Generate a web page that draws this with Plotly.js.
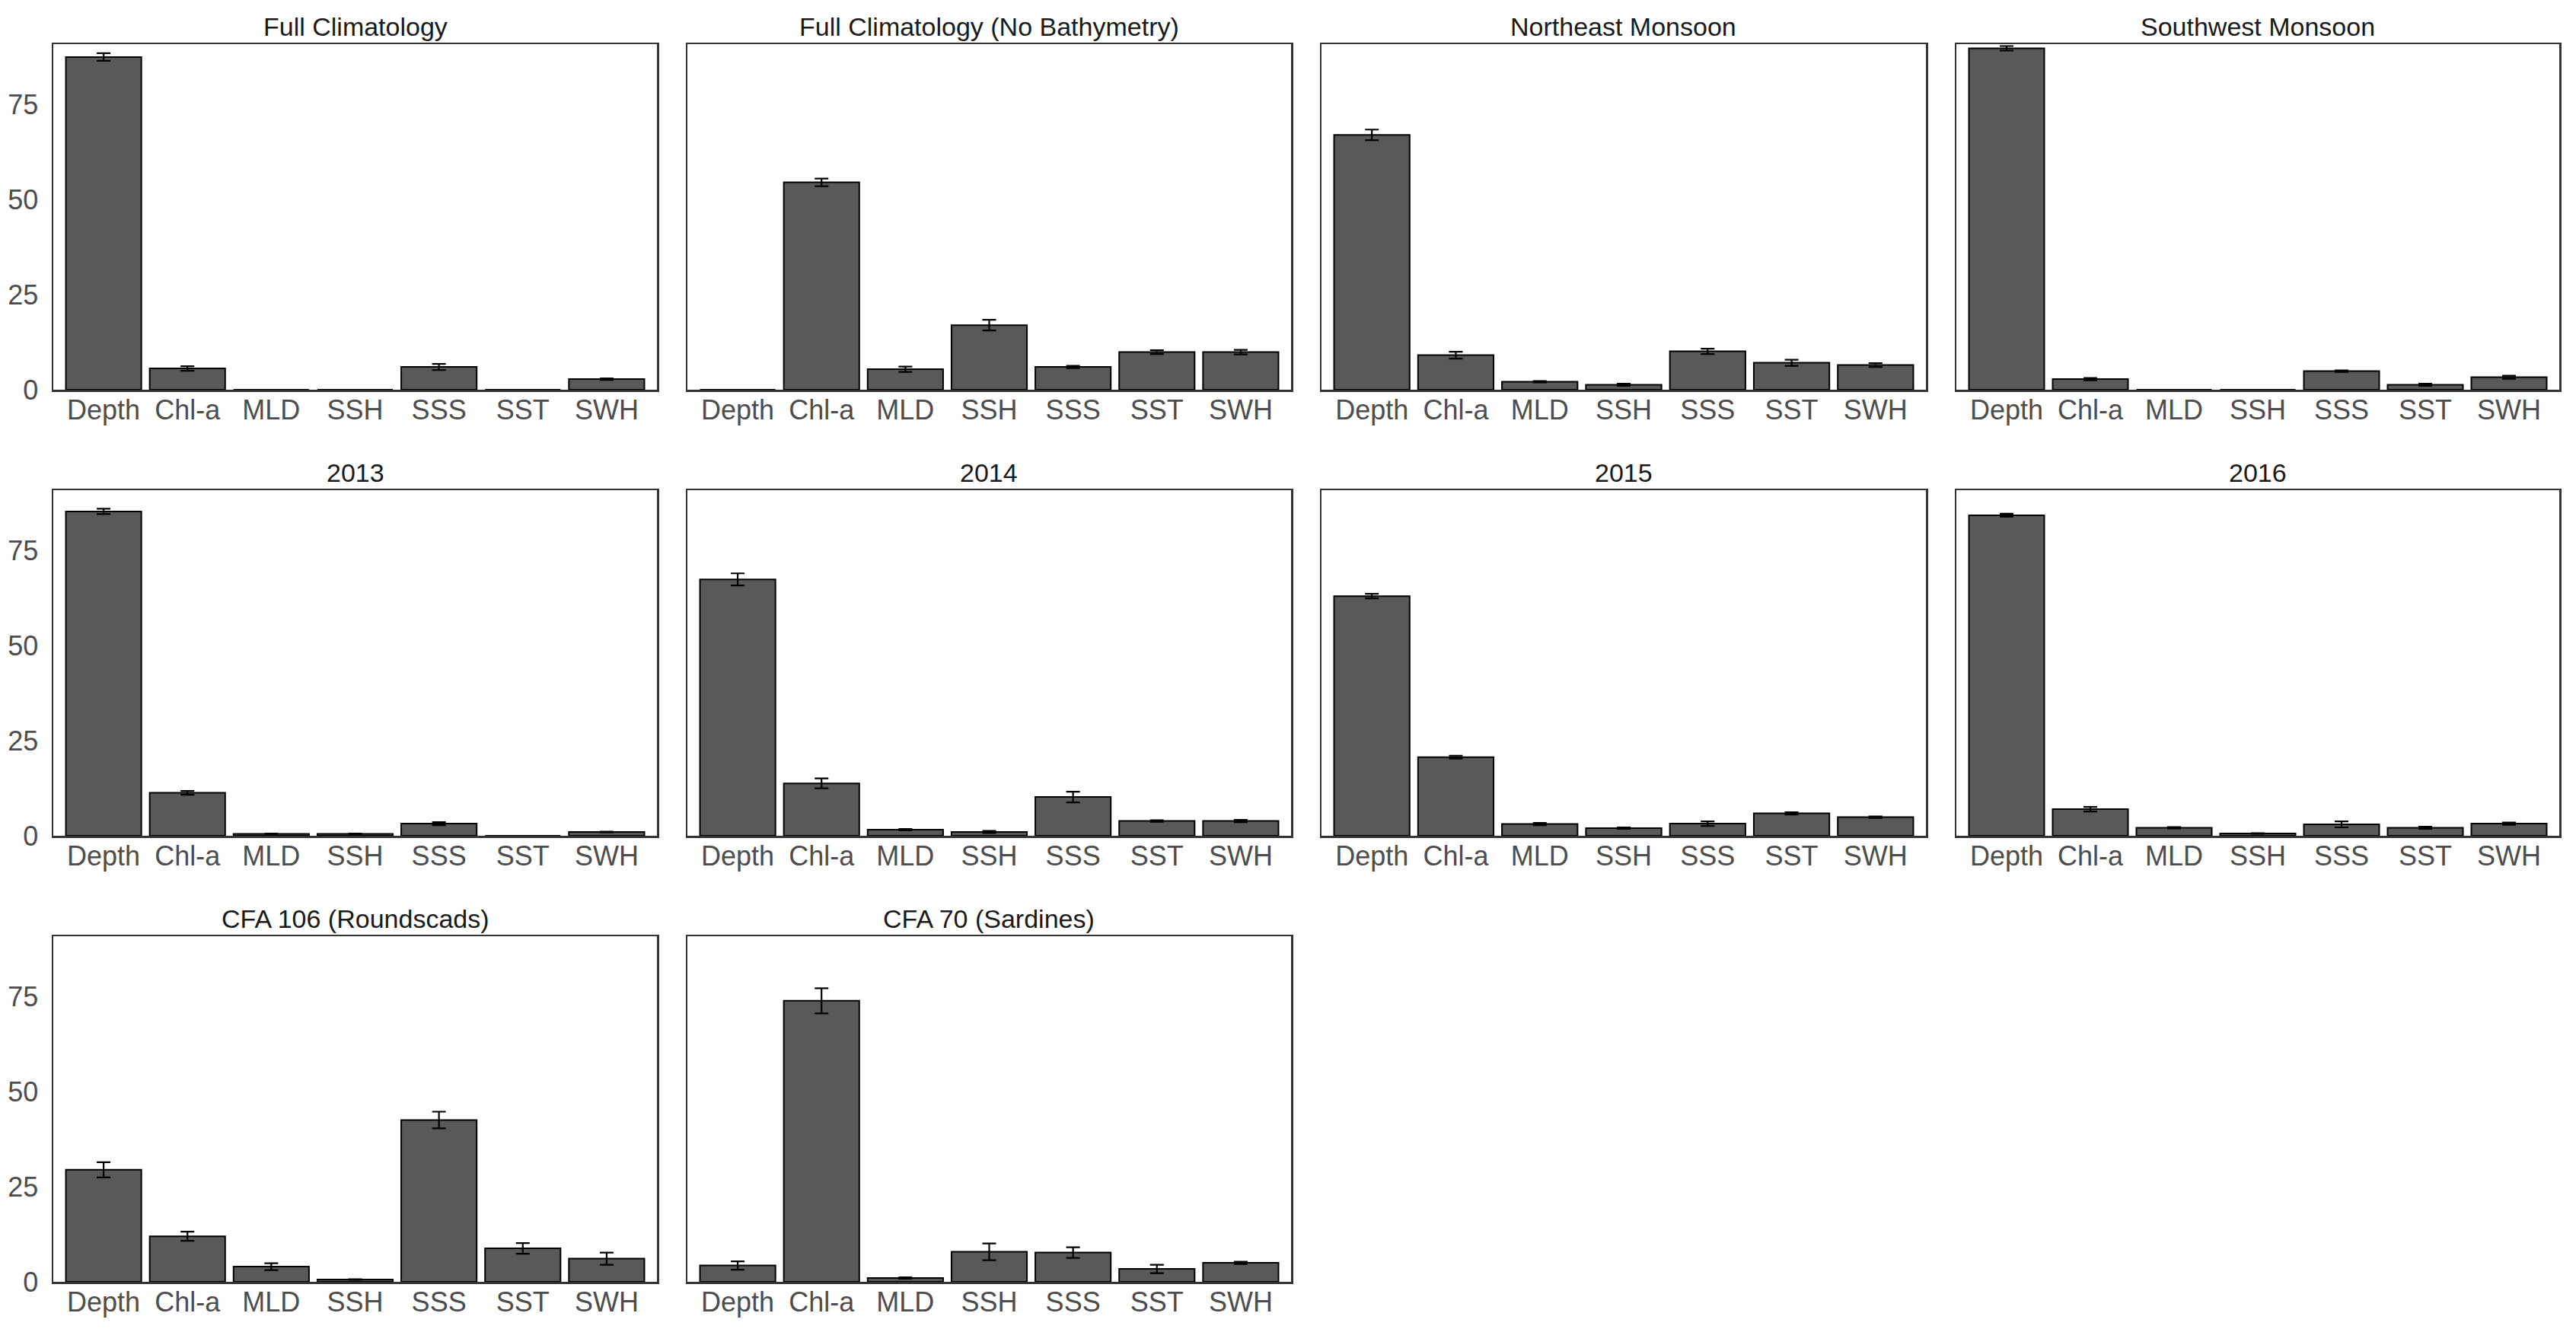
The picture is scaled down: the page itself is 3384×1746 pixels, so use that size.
<!DOCTYPE html>
<html>
<head>
<meta charset="utf-8">
<script src="https://cdn.plot.ly/plotly-3.0.1.min.js"></script>
<style>html,body{margin:0;padding:0;background:#fff;}#chart{width:3384px;height:1746px;}</style>
</head>
<body>
<div id="chart"></div>
<script>
// ---- data ----
const categories = ["Depth", "Chl-a", "MLD", "SSH", "SSS", "SST", "SWH"];
const panelTitles = ["Full Climatology", "Full Climatology (No Bathymetry)", "Northeast Monsoon", "Southwest Monsoon",
                     "2013", "2014", "2015", "2016",
                     "CFA 106 (Roundscads)", "CFA 70 (Sardines)"];
const yTickVals = [0, 25, 50, 75];
const yTickText = ["0", "25", "50", "75"];

const fullClim        = [87.6, 5.6, 0, 0, 6.0, 0, 2.8];
const fullClimErr     = [1.0, 0.6, null, null, 0.8, null, 0.2];
const fullClimNoBath  = [0, 54.6, 5.4, 17.0, 6.0, 9.9, 9.9];
const fullClimNoBathErr = [null, 1.0, 0.7, 1.4, 0.3, 0.5, 0.6];
const neMonsoon       = [67.1, 9.1, 2.1, 1.3, 10.1, 7.1, 6.5];
const neMonsoonErr    = [1.4, 0.9, 0.2, 0.3, 0.7, 0.8, 0.5];
const swMonsoon       = [89.9, 2.8, 0, 0, 4.9, 1.3, 3.3];
const swMonsoonErr    = [0.6, 0.3, null, null, 0.2, 0.3, 0.4];
const y2013           = [85.4, 11.3, 0.5, 0.5, 3.2, 0, 1.0];
const y2013Err        = [0.7, 0.5, 0.1, 0.1, 0.4, null, 0.1];
const y2014           = [67.5, 13.8, 1.6, 1.0, 10.2, 3.9, 3.9];
const y2014Err        = [1.6, 1.3, 0.2, 0.3, 1.4, 0.2, 0.3];
const y2015           = [63.1, 20.7, 3.1, 2.0, 3.2, 5.9, 4.9];
const y2015Err        = [0.6, 0.4, 0.3, 0.2, 0.6, 0.3, 0.2];
const y2016           = [84.4, 7.0, 2.1, 0.6, 3.0, 2.1, 3.2];
const y2016Err        = [0.4, 0.6, 0.2, 0.1, 0.8, 0.3, 0.3];
const cfa106          = [29.5, 12.0, 4.0, 0.6, 42.6, 8.8, 6.1];
const cfa106Err       = [2.0, 1.2, 0.9, 0.1, 2.2, 1.4, 1.6];
const cfa70           = [4.3, 74.0, 1.0, 7.9, 7.7, 3.4, 5.0];
const cfa70Err        = [1.1, 3.3, 0.2, 2.2, 1.4, 1.1, 0.3];

const panelValues = [fullClim, fullClimNoBath, neMonsoon, swMonsoon, y2013, y2014, y2015, y2016, cfa106, cfa70];
const panelErrors = [fullClimErr, fullClimNoBathErr, neMonsoonErr, swMonsoonErr, y2013Err, y2014Err, y2015Err, y2016Err, cfa106Err, cfa70Err];

// ---- layout geometry (pixels) ----
const W = 3384, H = 1746;
const colX = [[70, 863], [903, 1696], [1736, 2530], [2570, 3362]];
const rowY = [[58, 512], [644, 1098], [1230, 1684]];
const FONT = "Liberation Sans, Arial, Helvetica, sans-serif";

const traces = [];
const layout = {
  width: W, height: H,
  margin: {l: 0, r: 0, t: 0, b: 0},
  paper_bgcolor: "#ffffff", plot_bgcolor: "#ffffff",
  showlegend: false,
  bargap: 0.1,
  font: {family: FONT, color: "#4D4D4D", size: 35},
  annotations: []
};

panelValues.forEach((vals, i) => {
  const r = Math.floor(i / 4), c = i % 4;
  const n = i + 1;
  const xa = "x" + (n === 1 ? "" : n), ya = "y" + (n === 1 ? "" : n);
  traces.push({
    type: "bar",
    x: categories,
    y: vals,
    xaxis: xa, yaxis: ya,
    marker: {color: "#595959", line: {color: "#000000", width: 2}},
    error_y: {type: "data", array: panelErrors[i], visible: true, color: "#000000", thickness: 2.2, width: 9},
    hoverinfo: "x+y"
  });
  const xd = [colX[c][0] / W, colX[c][1] / W];
  const yd = [1 - rowY[r][1] / H, 1 - rowY[r][0] / H];
  layout["xaxis" + (n === 1 ? "" : n)] = {
    domain: xd, anchor: ya, type: "category",
    categoryorder: "array", categoryarray: categories,
    range: [-0.6, 6.6],
    showline: true, mirror: true, linecolor: "#333333", linewidth: 2.5,
    showgrid: false, zeroline: false, ticks: "",
    ticklabelstandoff: -7,
    tickfont: {family: FONT, size: 36, color: "#4D4D4D"},
    fixedrange: true
  };
  layout["yaxis" + (n === 1 ? "" : n)] = {
    domain: yd, anchor: xa,
    range: [0, 91],
    tickvals: yTickVals, ticktext: yTickText,
    showticklabels: c === 0,
    showline: true, mirror: true, linecolor: "#333333", linewidth: 2.5,
    showgrid: false, zeroline: false, ticks: "",
    ticklabelstandoff: 10,
    tickfont: {family: FONT, size: 36, color: "#4D4D4D"},
    fixedrange: true
  };
  layout.annotations.push({
    text: panelTitles[i],
    xref: "paper", yref: "paper",
    x: (xd[0] + xd[1]) / 2,
    y: 1 - (rowY[r][0] - 23) / H,
    xanchor: "center", yanchor: "middle",
    showarrow: false,
    font: {family: FONT, size: 34, color: "#1A1A1A"}
  });
});

Plotly.newPlot("chart", traces, layout, {displayModeBar: false, staticPlot: true});
</script>
</body>
</html>
